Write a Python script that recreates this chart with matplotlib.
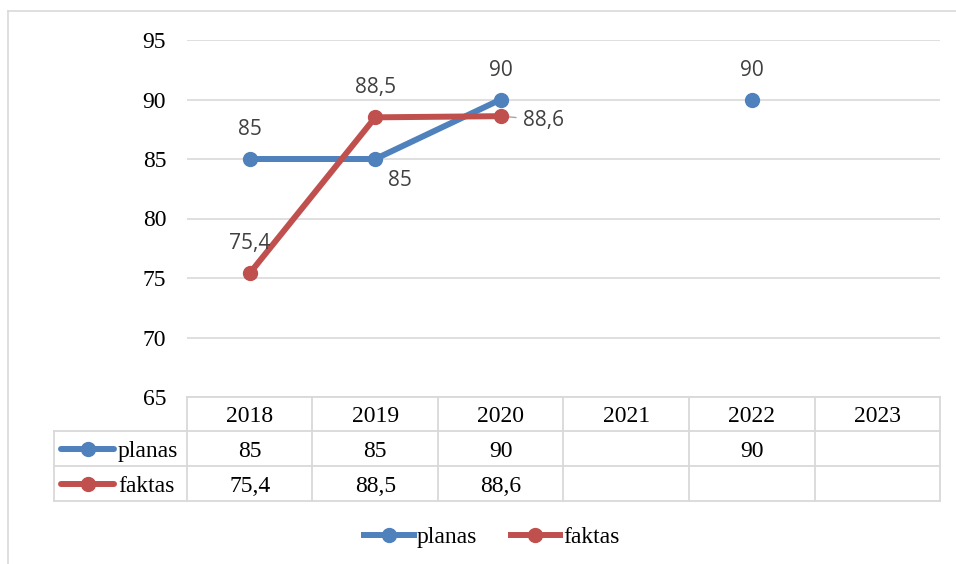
import numpy as np
import matplotlib
matplotlib.use("Agg")
import matplotlib.pyplot as plt
from matplotlib.lines import Line2D

# ── Data ─────────────────────────────────────────────────────
years  = ["2018", "2019", "2020", "2021", "2022", "2023"]
planas = [85, 85, 90, np.nan, 90, np.nan]
faktas = [75.4, 88.5, 88.6, np.nan, np.nan, np.nan]
series_names = ["planas", "faktas"]

# label offsets in points (dx, dy) for each point, None = no label
planas_offsets = [(0, 23), (18, -14), (0, 23), None, (0, 23), None]
faktas_offsets = [(0, 23), (0, 23), (16, -1), None, None, None]

BLUE = "#4F81BD"
RED  = "#C0504D"
GRID = "#D9D9D9"
SERIF = "Liberation Serif"
SANS  = "Open Sans"
FS = 17

W, H = 956, 564


def fmt(v):
    return "" if np.isnan(v) else f"{v:g}".replace(".", ",")


def fx(px):
    return px / W


def fy(py):
    return 1 - py / H


fig = plt.figure(figsize=(W / 100, H / 100), dpi=100)
ax = fig.add_axes([fx(187), fy(397), fx(940) - fx(187), fy(40) - fy(397)])

x = np.arange(len(years))
ax.plot(x, planas, color=BLUE, lw=4.3, marker="o", ms=10, solid_capstyle="round", zorder=3)
ax.plot(x, faktas, color=RED, lw=4.3, marker="o", ms=10, solid_capstyle="round", zorder=4)

ax.set_xlim(-0.5, len(years) - 0.5)
ax.set_ylim(65, 95)
ax.set_yticks(range(65, 96, 5))
ax.set_xticks([])
ax.yaxis.grid(True, color=GRID, lw=1.2)
ax.set_axisbelow(True)
for s in ax.spines.values():
    s.set_visible(False)
ax.tick_params(axis="y", length=0, pad=15, labelsize=FS)
for lab in ax.get_yticklabels():
    lab.set_fontfamily(SERIF)
    lab.set_verticalalignment("center_baseline")

# data labels
for vals, offs in [(planas, planas_offsets), (faktas, faktas_offsets)]:
    for xi, v, off in zip(x, vals, offs):
        if off is None or np.isnan(v):
            continue
        ha = "left" if off[0] > 10 and off[1] == -1 else "center"
        ax.annotate(fmt(v), (xi, v), xytext=off, textcoords="offset points",
                    ha=ha, va="center_baseline", fontsize=15, color="#404040",
                    family=SANS, zorder=5)
# leader line for 88,6
ax.annotate("", (x[2], faktas[2]), xytext=(11, -1), textcoords="offset points",
            arrowprops=dict(arrowstyle="-", color="#A6A6A6", lw=1, shrinkA=0, shrinkB=0))

# ── Data table under the axis ────────────────────────────────
row_tops = [397, 431, 466, 501]
tbl_left = 54
bx = [fx(187) + (fx(940) - fx(187)) * i / len(years) for i in range(len(years) + 1)]
lw_t = 1.3
fig.add_artist(Line2D([fx(187), fx(940)], [fy(397)] * 2, color=GRID, lw=lw_t))
for r in row_tops[1:]:
    fig.add_artist(Line2D([fx(tbl_left), fx(940)], [fy(r)] * 2, color=GRID, lw=lw_t))
for b in bx:
    fig.add_artist(Line2D([b, b], [fy(397), fy(501)], color=GRID, lw=lw_t))
fig.add_artist(Line2D([fx(tbl_left)] * 2, [fy(431), fy(501)], color=GRID, lw=lw_t))

for i, yr in enumerate(years):
    cx = (bx[i] + bx[i + 1]) / 2
    fig.text(cx, fy(414), yr, ha="center", va="center_baseline", fontsize=FS, family=SERIF)
    for vals, ry in [(planas, 449), (faktas, 484)]:
        fig.text(cx, fy(ry), fmt(vals[i]), ha="center", va="center_baseline",
                 fontsize=FS, family=SERIF)

# row labels with legend keys
for name, col, ry in [("planas", BLUE, 449), ("faktas", RED, 484)]:
    fig.add_artist(Line2D([fx(61), fx(114)], [fy(ry)] * 2, color=col, lw=4.3,
                          solid_capstyle="round"))
    fig.add_artist(Line2D([fx(87.5)], [fy(ry)], color=col, marker="o", ms=10, lw=0))
    fig.text(fx(118), fy(ry), name, ha="left", va="center_baseline", fontsize=FS, family=SERIF)

# ── Legend ───────────────────────────────────────────────────
handles = [Line2D([], [], color=BLUE, lw=4.3, marker="o", ms=10),
           Line2D([], [], color=RED, lw=4.3, marker="o", ms=10)]
fig.legend(handles, series_names, loc="center", bbox_to_anchor=(fx(492), fy(537)),
           ncol=2, frameon=False, handlelength=2.1, handletextpad=0.15,
           columnspacing=1.4, prop={"family": SERIF, "size": FS})

# chart-area border
fig.add_artist(Line2D([fx(8), fx(8)], [fy(11), 0], color=GRID, lw=1.2))
fig.add_artist(Line2D([fx(8), 1], [fy(11), fy(11)], color=GRID, lw=1.2))

fig.savefig("out.png", dpi=100)
